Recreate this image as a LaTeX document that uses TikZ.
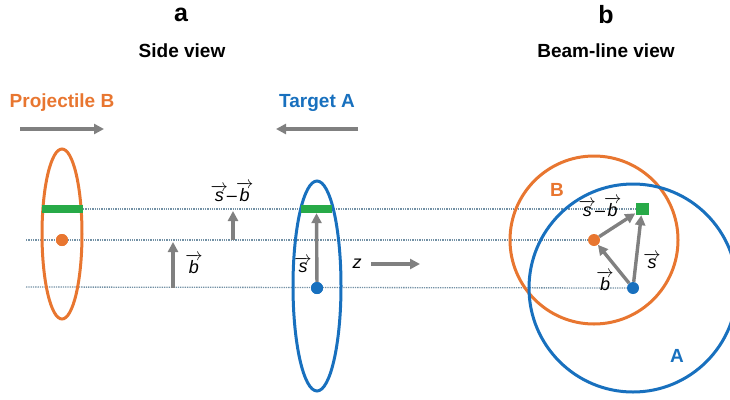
\documentclass[tikz,border=0pt]{standalone}
\usepackage{amsmath, amssymb}
\usepackage{fontspec}
\setmainfont{Liberation Sans}
\usetikzlibrary{arrows.meta}
\definecolor{projorange}{RGB}{232,118,48}
\definecolor{targblue}{RGB}{24,112,190}
\definecolor{hitgreen}{RGB}{40,170,72}
\definecolor{arrowgray}{RGB}{128,128,128}
\definecolor{beamgray}{RGB}{115,145,165}
\newcommand{\vlab}[1]{$\overrightarrow{\mbox{\itshape #1}}$}
\newcommand{\labfont}{\fontsize{18}{20}\selectfont}
\begin{document}
\begin{tikzpicture}[x=1pt,y=-1pt,>={Triangle[length=10pt,width=10pt]},
  beam/.style={beamgray,densely dotted,line width=1.3pt},
  vecarrow/.style={->,arrowgray,line width=3.4pt},
  title/.style={font=\bfseries\fontsize{19}{21}\selectfont},
  veclab/.style={font=\labfont,inner sep=0pt},
  nucleus/.style={line width=3pt},
  dot/.style={circle,fill,inner sep=0pt,minimum size=12pt}]
\useasboundingbox (0,0) rectangle (730,399);
% panel titles
\node[font=\bfseries\fontsize{25}{27}\selectfont] (pa) at (181,15) {a};
\node[font=\bfseries\fontsize{25}{27}\selectfont] (pb) at (606,15) {b};
\node[title] (side) at (182,51) {Side view};
\node[title] (beamline) at (606,51) {Beam-line view};
\node[title,projorange] (proj) at (62,103) {Projectile B};
\node[title,targblue] (targ) at (317,103) {Target A};
\coordinate (projL) at (20,129);
\coordinate (projR) at (104,129);
\coordinate (targR) at (358,129);
\coordinate (targL) at (276,129);
\draw[vecarrow] (projL) -- (projR);
\draw[vecarrow] (targR) -- (targL);
% dots, bars and squares
\node[dot,projorange] (odotL) at (62,240) {};
\node[dot,targblue] (bdotL) at (317,288) {};
\node[dot,projorange] (odotR) at (594,240) {};
\node[dot,targblue] (bdotR) at (633,288) {};
\node[fill=hitgreen,inner sep=0pt,minimum width=13pt,minimum height=12pt] (hitR) at (642,209) {};
\coordinate (lineA) at (26,240);
\coordinate (lineB) at (26,287);
\coordinate (lineC) at (83,209);
% beam lines
\draw[beam] (lineC) -- (hitR.west);
\draw[beam] (lineA) -- (odotR.west);
\draw[beam] (lineB) -- (bdotR.west);
% side view: nuclei
\draw[projorange,nucleus] (62,234) ellipse (20 and 85);
\draw[targblue,nucleus] (317,286) ellipse (24 and 105);
\node[fill=hitgreen,inner sep=0pt,minimum width=41pt,minimum height=8pt] (barB) at (62.5,209) {};
\node[fill=hitgreen,inner sep=0pt,minimum width=31pt,minimum height=8pt] (barA) at (316.5,209) {};
\node[dot,projorange] at (odotL) {};
\node[dot,targblue] at (bdotL) {};
\draw[vecarrow] (bdotL) -- (barA.south);
\node[veclab] (sL) at (303,265) {\vlab{s}};
\coordinate (bbase) at (173,288);
\coordinate (btip) at (173,242);
\draw[vecarrow] (bbase) -- (btip);
\node[veclab] (bL) at (194,264) {\vlab{b}};
\coordinate (sbbase) at (233,240);
\coordinate (sbtip) at (233,211);
\draw[vecarrow] (sbbase) -- (sbtip);
\node[veclab] (sbL) at (232,192) {\vlab{s}\kern-1pt--\kern-1pt\vlab{b}};
\node[font=\itshape\labfont] (zlab) at (357,264) {z};
\coordinate (zend) at (420,264);
\draw[vecarrow] (zlab.east) ++(6,0) coordinate (zstart) -- (zend);
% beam-line view
\draw[projorange,nucleus] (odotR) circle (84);
\draw[targblue,nucleus] (bdotR) circle (104);
\node[title,projorange] (Blab) at (557,190) {B};
\node[title,targblue] (Alab) at (677,356) {A};
\draw[vecarrow] (bdotR) -- (odotR);
\draw[vecarrow] (odotR) -- (hitR);
\draw[vecarrow] (bdotR) -- (hitR);
\node[veclab] (bR) at (605,281) {\vlab{b}};
\node[veclab] (sR) at (652,261) {\vlab{s}};
\node[veclab] (sbR) at (600,207) {\vlab{s}\kern-1pt--\kern-1pt\vlab{b}};
\end{tikzpicture}
\end{document}
